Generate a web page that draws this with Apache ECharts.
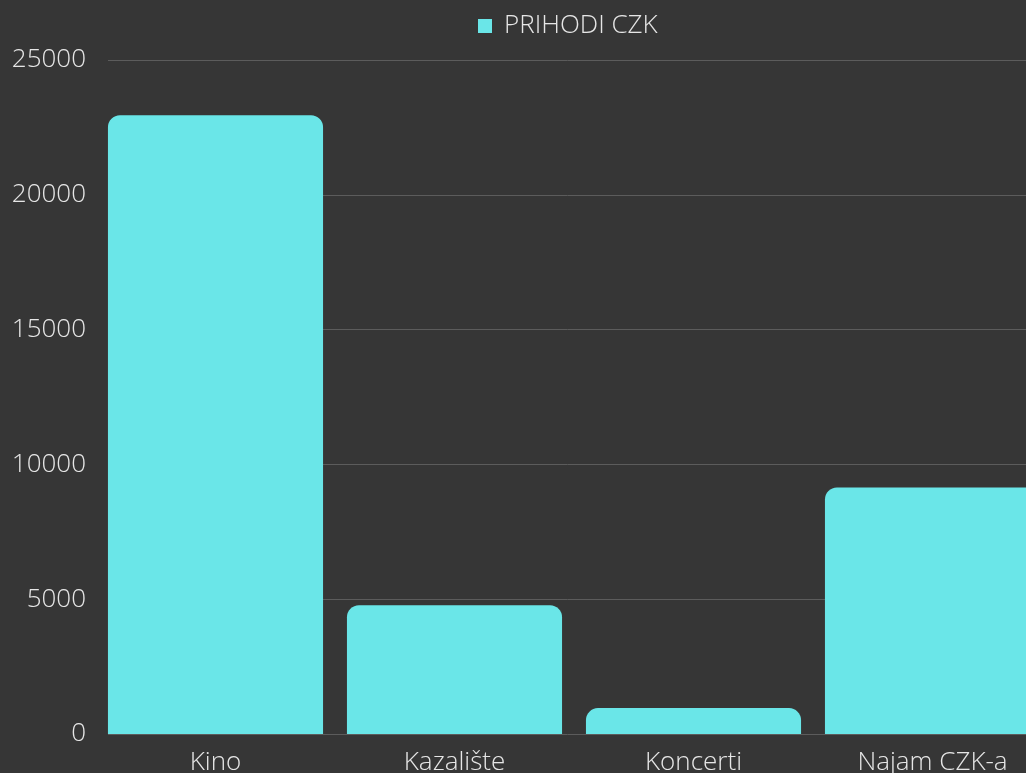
<!DOCTYPE html>
<html>
<head>
<meta charset="utf-8">
<script src="https://cdn.jsdelivr.net/npm/echarts@6/dist/echarts.min.js"></script>
<style>
html,body{margin:0;padding:0;background:#363636;}
#c{width:1026px;height:773px;}
</style>
</head>
<body>
<div id="c"></div>
<script>
const categories = ['Kino', 'Kazalište', 'Koncerti', 'Najam CZK-a'];
const prihodi = [22950, 4780, 960, 9140];
const yTicks = [0, 5000, 10000, 15000, 20000, 25000];

const FONT = '"Open Sans", sans-serif';
const TEXT = '#e6e6e6';
const chart = echarts.init(document.getElementById('c'), null, {renderer: 'canvas'});
chart.setOption({
  backgroundColor: '#363636',
  animation: false,
  legend: {
    top: 13, left: 478, padding: 0,
    itemWidth: 14, itemHeight: 14, icon: 'rect', itemGap: 10,
    textStyle: {color: TEXT, fontFamily: FONT, fontWeight: 300, fontSize: 26, padding: [0, 0, 0, 7]},
    data: ['PRIHODI CZK']
  },
  grid: [
    {left: 108, top: 60, width: 956, bottom: 39, outerBoundsMode: 'none', containLabel: false},
    {left: 96, top: 60, width: 956, bottom: 39, outerBoundsMode: 'none', containLabel: false}
  ],
  xAxis: [
    {gridIndex: 0, type: 'category', data: categories, show: false},
    {gridIndex: 1, type: 'category', data: categories,
     axisLine: {show: false}, axisTick: {show: false},
     axisLabel: {color: TEXT, fontFamily: FONT, fontWeight: 300, fontSize: 26, margin: 16}}
  ],
  yAxis: [
    {gridIndex: 0, type: 'value', min: yTicks[0], max: yTicks[yTicks.length - 1], interval: 5000,
     axisLine: {show: false}, axisTick: {show: false},
     splitLine: {lineStyle: {color: '#5c5c5c', width: 1}},
     axisLabel: {color: TEXT, fontFamily: FONT, fontWeight: 300, fontSize: 26, margin: 22,
                 formatter: v => String(v)}},
    {gridIndex: 1, type: 'value', min: yTicks[0], max: yTicks[yTicks.length - 1], interval: 5000,
     show: false, splitLine: {show: false}}
  ],
  series: [{
    name: 'PRIHODI CZK', type: 'bar', xAxisIndex: 1, yAxisIndex: 1,
    data: prihodi, barCategoryGap: '10%',
    itemStyle: {color: '#6ae6e8', borderRadius: [12, 12, 0, 0]}
  }]
});
</script>
</body>
</html>
